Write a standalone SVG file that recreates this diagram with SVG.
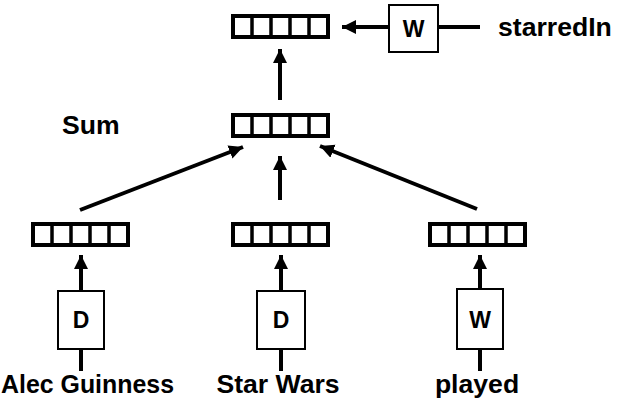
<svg xmlns="http://www.w3.org/2000/svg" width="628" height="408" viewBox="0 0 628 408">
<style>
.vec{fill:#fff;stroke:#000;stroke-width:4}
.div{stroke:#000;stroke-width:3.5}
.box{fill:#fff;stroke:#000;stroke-width:2}
.lbl{font-family:"Liberation Sans",Arial,sans-serif;font-weight:bold;font-size:26.6px;fill:#000}
.let{font-family:"Liberation Sans",Arial,sans-serif;font-weight:bold;font-size:23px;fill:#000;text-anchor:middle}
.con{stroke:#000;stroke-width:4;fill:none}
</style>
<defs>
<marker id="ah" markerUnits="userSpaceOnUse" markerWidth="16" markerHeight="16" refX="14" refY="7" orient="auto">
<path d="M0,0 L14,7 L0,14 z" fill="#000"/>
</marker>
<g id="vecshape">
<rect class="vec" x="0" y="0" width="95" height="21"/>
<line class="div" x1="19" y1="0" x2="19" y2="21"/>
<line class="div" x1="38" y1="0" x2="38" y2="21"/>
<line class="div" x1="57" y1="0" x2="57" y2="21"/>
<line class="div" x1="76" y1="0" x2="76" y2="21"/>
</g>
</defs>
<rect width="628" height="408" fill="#fff"/>
<g id="connectors">
<line class="con" x1="389" y1="27" x2="342" y2="27" marker-end="url(#ah)"/>
<line class="con" x1="480" y1="27" x2="438" y2="27"/>
<line class="con" x1="280" y1="100" x2="280" y2="49" marker-end="url(#ah)"/>
<line class="con" x1="80" y1="210" x2="243" y2="147" marker-end="url(#ah)"/>
<line class="con" x1="280" y1="200" x2="280" y2="156" marker-end="url(#ah)"/>
<line class="con" x1="477" y1="209" x2="320" y2="146" marker-end="url(#ah)"/>
<line class="con" x1="81" y1="291" x2="81" y2="255" marker-end="url(#ah)"/>
<line class="con" x1="281" y1="291" x2="281" y2="255" marker-end="url(#ah)"/>
<line class="con" x1="480" y1="289" x2="480" y2="255" marker-end="url(#ah)"/>
<line class="con" x1="81" y1="371" x2="81" y2="349"/>
<line class="con" x1="281" y1="371" x2="281" y2="349"/>
<line class="con" x1="480" y1="371" x2="480" y2="349"/>
</g>
<g id="vec-top"><use href="#vecshape" x="233" y="16"/></g>
<g id="vec-sum"><use href="#vecshape" x="233" y="115"/></g>
<g id="vec-left"><use href="#vecshape" x="33" y="224"/></g>
<g id="vec-mid"><use href="#vecshape" x="233" y="224"/></g>
<g id="vec-right"><use href="#vecshape" x="430" y="224"/></g>
<g id="w-top"><rect class="box" x="389" y="5" width="49" height="47"/><text class="let" x="413.5" y="37">W</text></g>
<g id="d-left"><rect class="box" x="58" y="291" width="46" height="58"/><text class="let" x="81" y="328">D</text></g>
<g id="d-mid"><rect class="box" x="257" y="291" width="48" height="58"/><text class="let" x="281" y="328">D</text></g>
<g id="w-right"><rect class="box" x="457" y="289" width="46" height="60"/><text class="let" x="480" y="328">W</text></g>
<g id="label-starredIn"><text class="lbl" x="498" y="36">starredIn</text></g>
<g id="label-sum"><text class="lbl" x="62" y="134">Sum</text></g>
<g id="label-alec"><text class="lbl" x="1" y="393" textLength="173" lengthAdjust="spacingAndGlyphs">Alec Guinness</text></g>
<g id="label-starwars"><text class="lbl" x="278" y="393" text-anchor="middle">Star Wars</text></g>
<g id="label-played"><text class="lbl" x="477" y="393" text-anchor="middle">played</text></g>
</svg>
